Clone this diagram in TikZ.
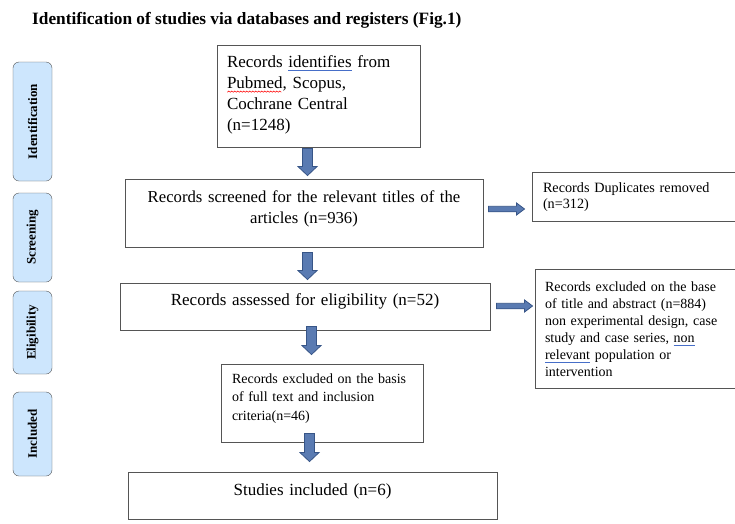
\documentclass[tikz,border=0pt]{standalone}
\usepackage{fontspec}
\setmainfont{Liberation Serif}
\usetikzlibrary{calc}
\definecolor{arrfill}{RGB}{90,123,178}
\definecolor{arredge}{RGB}{55,85,135}
\definecolor{stagefill}{RGB}{205,230,253}
\definecolor{boxline}{RGB}{85,85,85}
\definecolor{spellblue}{RGB}{70,110,200}
\newlength\spellw
\newcommand\blueul[1]{\leavevmode\settowidth\spellw{#1}\rlap{\textcolor{spellblue}{\rule[-3.2pt]{\spellw}{0.7pt}}}#1}
\newcommand\redwave[1]{\leavevmode\settowidth\spellw{#1}\pgfmathtruncatemacro\waven{\spellw/3pt}%
  \rlap{\raisebox{-4.5pt}{\tikz[x=1pt,y=1pt]\draw[red, line width=0.5pt] (0,0)
    \foreach \k in {1,...,\waven} {-- ++(1.5,1.2) -- ++(1.5,-1.2)};}}#1}
\tikzset{
  stage/.style={draw=boxline, fill=stagefill, rounded corners=6pt, rotate=90,
    minimum height=39pt, inner sep=0pt, font=\fontsize{13}{15}\selectfont\bfseries},
  box/.style={draw=boxline, line width=0.9pt, inner ysep=0pt, anchor=base,
    execute at begin node={\hyphenpenalty=10000\exhyphenpenalty=10000}},
  big/.style={font=\fontsize{17}{21}\selectfont},
  small/.style={font=\fontsize{14}{17}\selectfont},
  darrow/.style 2 args={draw=arredge, fill=arrfill, line width=0.8pt,
    to path={let \p1=(\tikztostart), \p2=(\tikztotarget) in
      ({\x1-5pt},{\y1-(#1)}) -- ({\x1-5pt},{\y2+(#2)+9pt}) -- ({\x1-9.5pt},{\y2+(#2)+9pt})
      -- ({\x1},{\y2+(#2)}) -- ({\x1+9.5pt},{\y2+(#2)+9pt}) -- ({\x1+5pt},{\y2+(#2)+9pt})
      -- ({\x1+5pt},{\y1-(#1)}) -- cycle}},
  rarrow/.style 2 args={draw=arredge, fill=arrfill, line width=0.8pt,
    to path={let \p1=(\tikztostart), \p2=(\tikztotarget) in
      ({\x1+(#1)},{\y1+2.75pt}) -- ({\x2-(#2)-8pt},{\y1+2.75pt}) -- ({\x2-(#2)-8pt},{\y1+6pt})
      -- ({\x2-(#2)},{\y1}) -- ({\x2-(#2)-8pt},{\y1-6pt}) -- ({\x2-(#2)-8pt},{\y1-2.75pt})
      -- ({\x1+(#1)},{\y1-2.75pt}) -- cycle}},
}
\begin{document}
\begin{tikzpicture}[x=1pt, y=-1pt]
  \useasboundingbox[fill=white] (0,0) rectangle (735,523);
  % title
  \node[anchor=base west, inner sep=0pt, font=\fontsize{17.3}{20}\selectfont\bfseries] (title) at (32,24)
    {Identification of studies via databases and registers (Fig.1)};
  % stages on the left
  \node[stage, minimum width=119pt] (s1) at (32.5,121.5) {Identification};
  \node[stage, minimum width=89pt] (s2) at (32.5,237.5) {Screening};
  \node[stage, minimum width=83pt] (s3) at (32.5,332.5) {Eligibility};
  \node[stage, minimum width=84pt] (s4) at (32.5,434) {Included};
  % main column
  \node[box, big, text width=183pt, inner xsep=10pt, text height=22pt, text depth=80pt, align=left] (b1) at (318.5,67)
    {Records \blueul{identifies} from\\ \redwave{Pubmed}, Scopus,\\ Cochrane Central\\ (n=1248)};
  \node[box, big, text width=338pt, inner xsep=10pt, text height=23pt, text depth=45pt, align=center,
    font=\fontsize{16.7}{21}\selectfont] (b2) at (304,202)
    {Records screened for the relevant titles of the\\ articles (n=936)};
  \node[box, big, text width=350pt, inner xsep=10pt, text height=22pt, text depth=25pt, align=center] (b4) at (305,305)
    {Records assessed for eligibility (n=52)};
  \node[box, small, text width=180pt, inner xsep=11pt, text height=19pt, text depth=59pt, align=left,
    font=\fontsize{14}{18.5}\selectfont] (b6) at (322,383)
    {Records excluded on the basis\\ of full text and inclusion\\ criteria(n=46)};
  \node[box, big, text width=349pt, inner xsep=10pt, text height=23pt, text depth=24pt, align=center] (b7) at (312.5,495)
    {Studies included (n=6)};
  % side boxes
  \node[box, small, text width=186pt, inner xsep=11pt, text height=20pt, text depth=29pt, align=left,
    font=\fontsize{14.2}{16}\selectfont] (b3) at (636,192)
    {Records Duplicates removed\\ (n=312)};
  \node[box, small, text width=185pt, inner xsep=10pt, text height=22pt, text depth=97pt, align=left] (b5) at (637.5,291)
    {Records excluded on the base\\ of title and abstract (n=884)\\ non experimental design, case\\
     study and case series, \blueul{non}\\ \blueul{relevant} population or\\ intervention};
  % arrows
  \coordinate (ax1) at (307.5,0);
  \coordinate (ax3) at (311.5,0);
  \coordinate (ax4) at (309.5,0);
  \coordinate (ay1) at (0,209);
  \coordinate (ay2) at (0,306);
  \draw[darrow={1pt}{3pt}] (b1.south -| ax1) to (b2.north -| ax1);
  \draw[darrow={5pt}{3pt}] (b2.south -| ax1) to (b4.north -| ax1);
  \draw[darrow={-4pt}{9pt}] (b4.south -| ax3) to (b6.north -| ax3);
  \draw[darrow={-9pt}{10pt}] (b6.south -| ax4) to (b7.north -| ax4);
  \draw[rarrow={5pt}{7pt}] (b2.east |- ay1) to (b3.west |- ay1);
  \draw[rarrow={6pt}{2pt}] (b4.east |- ay2) to (b5.west |- ay2);
\end{tikzpicture}
\end{document}
